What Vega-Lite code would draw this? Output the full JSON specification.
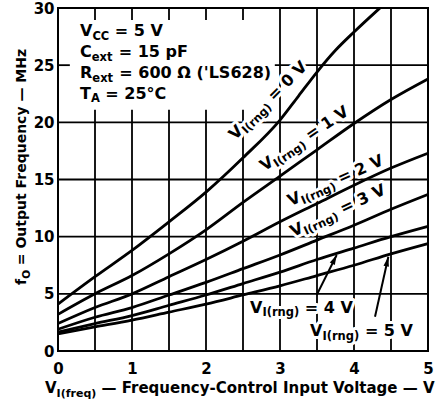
{
"$schema":"https://vega.github.io/schema/vega-lite/v6.json",
"autosize":"none",
"width":370,"height":343,
"padding":{"left":58,"top":8,"right":18,"bottom":54},
"background":"white",
"config":{"view":{"stroke":"black","strokeWidth":2},
"scale":{"continuousPadding":0},
"axis":{"grid":false,"ticks":false,"domain":false,"labelFont":"DejaVu Sans","labelFontWeight":"bold","labelFontSize":15,"labelColor":"black","title":null,"labelFlush":false,"labelOverlap":false}},
"datasets":{
"gx":[{"v":0.5,"a":0,"b":21.1},{"v":1,"a":0,"b":21.1},{"v":1.5,"a":0,"b":21.1},{"v":2,"a":0,"b":21.1},{"v":2.5,"a":0,"b":21.1},
{"v":0.5,"a":28.95,"b":30},{"v":1,"a":28.95,"b":30},{"v":1.5,"a":28.95,"b":30},{"v":2,"a":28.95,"b":30},{"v":2.5,"a":28.95,"b":30},
{"v":3,"a":0,"b":30},{"v":3.5,"a":0,"b":30},{"v":4,"a":0,"b":30},{"v":4.5,"a":0,"b":30}],
"gy":[{"v":5,"a":0,"b":5},{"v":10,"a":0,"b":5},{"v":15,"a":0,"b":5},{"v":20,"a":0,"b":5},{"v":25,"a":0,"b":0.16},{"v":25,"a":2.93,"b":5}],
"curves":[
{"c":"0","x":0,"y":4.1},{"c":"0","x":0.5,"y":6.5},{"c":"0","x":1,"y":8.8},{"c":"0","x":1.5,"y":11.3},{"c":"0","x":2,"y":13.9},{"c":"0","x":2.5,"y":16.9},{"c":"0","x":3,"y":20.2},{"c":"0","x":3.25,"y":22.3},{"c":"0","x":3.5,"y":24.4},{"c":"0","x":3.75,"y":26.3},{"c":"0","x":4,"y":27.9},{"c":"0","x":4.35,"y":30},
{"c":"1","x":0,"y":3.2},{"c":"1","x":0.5,"y":5.0},{"c":"1","x":1,"y":6.6},{"c":"1","x":1.5,"y":8.5},{"c":"1","x":2,"y":10.6},{"c":"1","x":2.5,"y":13.0},{"c":"1","x":3,"y":15.3},{"c":"1","x":3.5,"y":17.6},{"c":"1","x":4,"y":19.9},{"c":"1","x":4.5,"y":22.0},{"c":"1","x":5,"y":23.8},
{"c":"2","x":0,"y":2.4},{"c":"2","x":0.5,"y":3.8},{"c":"2","x":1,"y":5.0},{"c":"2","x":1.5,"y":6.5},{"c":"2","x":2,"y":8.0},{"c":"2","x":2.5,"y":9.6},{"c":"2","x":3,"y":11.3},{"c":"2","x":3.5,"y":12.9},{"c":"2","x":4,"y":14.5},{"c":"2","x":4.5,"y":16.0},{"c":"2","x":5,"y":17.3},
{"c":"3","x":0,"y":1.9},{"c":"3","x":0.5,"y":2.95},{"c":"3","x":1,"y":3.8},{"c":"3","x":1.5,"y":4.9},{"c":"3","x":2,"y":6.0},{"c":"3","x":2.5,"y":7.2},{"c":"3","x":3,"y":8.4},{"c":"3","x":3.5,"y":9.7},{"c":"3","x":4,"y":11.0},{"c":"3","x":4.5,"y":12.4},{"c":"3","x":5,"y":13.7},
{"c":"4","x":0,"y":1.65},{"c":"4","x":0.5,"y":2.4},{"c":"4","x":1,"y":3.1},{"c":"4","x":1.5,"y":4.0},{"c":"4","x":2,"y":4.9},{"c":"4","x":2.5,"y":5.9},{"c":"4","x":3,"y":6.9},{"c":"4","x":3.5,"y":8.0},{"c":"4","x":4,"y":9.0},{"c":"4","x":4.5,"y":10.0},{"c":"4","x":5,"y":10.9},
{"c":"5","x":0,"y":1.5},{"c":"5","x":0.5,"y":2.1},{"c":"5","x":1,"y":2.7},{"c":"5","x":1.5,"y":3.4},{"c":"5","x":2,"y":4.1},{"c":"5","x":2.5,"y":4.9},{"c":"5","x":3,"y":5.7},{"c":"5","x":3.5,"y":6.6},{"c":"5","x":4,"y":7.5},{"c":"5","x":4.5,"y":8.5},{"c":"5","x":5,"y":9.4}
],
"arrows":[{"c":"4","x":3.496,"y":4.9,"x2":3.766,"y2":8.4},{"c":"5","x":4.284,"y":3.0,"x2":4.464,"y2":8.25}],
"txt":[
{"g":"h","k":"m","t":"V","x":0.297,"y":27.55},{"g":"h","k":"s","t":"CC","x":0.465,"y":27.2},{"g":"h","k":"m","t":"= 5 V","x":0.768,"y":27.55},
{"g":"h","k":"m","t":"C","x":0.297,"y":25.71},{"g":"h","k":"s","t":"ext","x":0.455,"y":25.37},{"g":"h","k":"m","t":"= 15 pF","x":0.821,"y":25.71},
{"g":"h","k":"m","t":"R","x":0.297,"y":23.88},{"g":"h","k":"s","t":"ext","x":0.464,"y":23.53},{"g":"h","k":"m","t":"= 600 Ω ('LS628)","x":0.829,"y":23.88},
{"g":"h","k":"m","t":"T","x":0.297,"y":22.08},{"g":"h","k":"s","t":"A","x":0.445,"y":21.74},{"g":"h","k":"m","t":"= 25°C","x":0.64,"y":22.08},
{"g":"c","k":"m","t":"V","x":2.595,"y":3.32},{"g":"c","k":"s","t":"I(rng)","x":2.762,"y":3.02},{"g":"c","k":"m","t":"= 4 V","x":3.336,"y":3.32},
{"g":"c","k":"m","t":"V","x":3.405,"y":1.27},{"g":"c","k":"s","t":"I(rng)","x":3.573,"y":0.96},{"g":"c","k":"m","t":"= 5 V","x":4.147,"y":1.27},
{"g":"r0","k":"m","t":"V","x":2.395,"y":18.41},{"g":"r0","k":"s","t":"I(rng)","x":2.546,"y":18.96},{"g":"r0","k":"m","t":"= 0 V","x":2.92,"y":21.81},
{"g":"r1","k":"m","t":"V","x":2.791,"y":15.69},{"g":"r1","k":"s","t":"I(rng)","x":2.955,"y":16.04},{"g":"r1","k":"m","t":"= 1 V","x":3.405,"y":18.38},
{"g":"r2","k":"m","t":"V","x":3.141,"y":12.66},{"g":"r2","k":"s","t":"I(rng)","x":3.314,"y":12.82},{"g":"r2","k":"m","t":"= 2 V","x":3.818,"y":14.62},
{"g":"r3","k":"m","t":"V","x":3.18,"y":9.96},{"g":"r3","k":"s","t":"I(rng)","x":3.351,"y":10.15},{"g":"r3","k":"m","t":"= 3 V","x":3.853,"y":11.99},
{"g":"xt","k":"m","t":"V","x":-0.176,"y":-3.674},{"g":"xt","k":"s","t":"I(freq)","x":-0.019,"y":-4.023},{"g":"xt","k":"m","t":"— Frequency-Control Input Voltage — V","x":0.588,"y":-3.674},
{"g":"yt","k":"m","t":"f","x":-0.432,"y":5.77},{"g":"yt","k":"s","t":"O","x":-0.385,"y":6.31},{"g":"yt","k":"m","t":"= Output Frequency — MHz","x":-0.432,"y":7.51}
]},
"layer":[
{"data":{"name":"gx"},"mark":{"type":"bar","color":"black","size":1.8,"orient":"vertical"},
 "encoding":{"x":{"field":"v","type":"quantitative","scale":{"domain":[0,5],"nice":false,"zero":false,"padding":0},"axis":{"values":[0,1,2,3,4,5],"format":"d","labelPadding":10}},"y":{"field":"a","type":"quantitative","scale":{"domain":[0,30],"nice":false,"zero":false,"padding":0},"axis":{"values":[0,5,10,15,20,25,30],"labelPadding":4}},"y2":{"field":"b"}}},
{"data":{"name":"gy"},"mark":{"type":"bar","color":"black","size":1.8,"orient":"horizontal"},
 "encoding":{"y":{"field":"v","type":"quantitative"},"x":{"field":"a","type":"quantitative"},"x2":{"field":"b"}}},
{"data":{"name":"txt"},"transform":[{"filter":"datum.g=='c'&&datum.k=='m'"}],"mark":{"type":"text","font":"DejaVu Sans","fontWeight":"bold","fontSize":16,"angle":0,"align":"left","baseline":"alphabetic","fill":"white","stroke":"white","strokeWidth":6,"strokeJoin":"round"},"encoding":{"x":{"field":"x","type":"quantitative"},"y":{"field":"y","type":"quantitative"},"text":{"field":"t"}}},
{"data":{"name":"txt"},"transform":[{"filter":"datum.g=='c'&&datum.k=='s'"}],"mark":{"type":"text","font":"DejaVu Sans","fontWeight":"bold","fontSize":11.5,"angle":0,"align":"left","baseline":"alphabetic","fill":"white","stroke":"white","strokeWidth":6,"strokeJoin":"round"},"encoding":{"x":{"field":"x","type":"quantitative"},"y":{"field":"y","type":"quantitative"},"text":{"field":"t"}}},
{"data":{"name":"txt"},"transform":[{"filter":"datum.g=='r0'&&datum.k=='m'"}],"mark":{"type":"text","font":"DejaVu Sans","fontWeight":"bold","fontSize":16,"angle":315,"align":"left","baseline":"alphabetic","fill":"white","stroke":"white","strokeWidth":6,"strokeJoin":"round"},"encoding":{"x":{"field":"x","type":"quantitative"},"y":{"field":"y","type":"quantitative"},"text":{"field":"t"}}},
{"data":{"name":"txt"},"transform":[{"filter":"datum.g=='r0'&&datum.k=='s'"}],"mark":{"type":"text","font":"DejaVu Sans","fontWeight":"bold","fontSize":11.5,"angle":315,"align":"left","baseline":"alphabetic","fill":"white","stroke":"white","strokeWidth":6,"strokeJoin":"round"},"encoding":{"x":{"field":"x","type":"quantitative"},"y":{"field":"y","type":"quantitative"},"text":{"field":"t"}}},
{"data":{"name":"txt"},"transform":[{"filter":"datum.g=='r1'&&datum.k=='m'"}],"mark":{"type":"text","font":"DejaVu Sans","fontWeight":"bold","fontSize":16,"angle":326,"align":"left","baseline":"alphabetic","fill":"white","stroke":"white","strokeWidth":6,"strokeJoin":"round"},"encoding":{"x":{"field":"x","type":"quantitative"},"y":{"field":"y","type":"quantitative"},"text":{"field":"t"}}},
{"data":{"name":"txt"},"transform":[{"filter":"datum.g=='r1'&&datum.k=='s'"}],"mark":{"type":"text","font":"DejaVu Sans","fontWeight":"bold","fontSize":11.5,"angle":326,"align":"left","baseline":"alphabetic","fill":"white","stroke":"white","strokeWidth":6,"strokeJoin":"round"},"encoding":{"x":{"field":"x","type":"quantitative"},"y":{"field":"y","type":"quantitative"},"text":{"field":"t"}}},
{"data":{"name":"txt"},"transform":[{"filter":"datum.g=='r2'&&datum.k=='m'"}],"mark":{"type":"text","font":"DejaVu Sans","fontWeight":"bold","fontSize":16,"angle":336,"align":"left","baseline":"alphabetic","fill":"white","stroke":"white","strokeWidth":6,"strokeJoin":"round"},"encoding":{"x":{"field":"x","type":"quantitative"},"y":{"field":"y","type":"quantitative"},"text":{"field":"t"}}},
{"data":{"name":"txt"},"transform":[{"filter":"datum.g=='r2'&&datum.k=='s'"}],"mark":{"type":"text","font":"DejaVu Sans","fontWeight":"bold","fontSize":11.5,"angle":336,"align":"left","baseline":"alphabetic","fill":"white","stroke":"white","strokeWidth":6,"strokeJoin":"round"},"encoding":{"x":{"field":"x","type":"quantitative"},"y":{"field":"y","type":"quantitative"},"text":{"field":"t"}}},
{"data":{"name":"txt"},"transform":[{"filter":"datum.g=='r3'&&datum.k=='m'"}],"mark":{"type":"text","font":"DejaVu Sans","fontWeight":"bold","fontSize":16,"angle":335,"align":"left","baseline":"alphabetic","fill":"white","stroke":"white","strokeWidth":6,"strokeJoin":"round"},"encoding":{"x":{"field":"x","type":"quantitative"},"y":{"field":"y","type":"quantitative"},"text":{"field":"t"}}},
{"data":{"name":"txt"},"transform":[{"filter":"datum.g=='r3'&&datum.k=='s'"}],"mark":{"type":"text","font":"DejaVu Sans","fontWeight":"bold","fontSize":11.5,"angle":335,"align":"left","baseline":"alphabetic","fill":"white","stroke":"white","strokeWidth":6,"strokeJoin":"round"},"encoding":{"x":{"field":"x","type":"quantitative"},"y":{"field":"y","type":"quantitative"},"text":{"field":"t"}}},
{"data":{"name":"curves"},"mark":{"type":"line","stroke":"black","strokeWidth":2.8,"interpolate":"monotone"},"encoding":{"x":{"field":"x","type":"quantitative"},"y":{"field":"y","type":"quantitative"},"detail":{"field":"c"}}},
{"data":{"name":"arrows"},"mark":{"type":"rule","color":"black","strokeWidth":2},"encoding":{"x":{"field":"x","type":"quantitative"},"y":{"field":"y","type":"quantitative"},"x2":{"field":"x2"},"y2":{"field":"y2"}}},
{"data":{"name":"arrows"},"transform":[{"filter":"datum.c=='4'"}],"mark":{"type":"point","shape":"M0,0L-0.4,1.4L0.4,1.4Z","filled":true,"color":"black","opacity":1,"size":196,"angle":26.6},"encoding":{"x":{"field":"x2","type":"quantitative"},"y":{"field":"y2","type":"quantitative"}}},
{"data":{"name":"arrows"},"transform":[{"filter":"datum.c=='5'"}],"mark":{"type":"point","shape":"M0,0L-0.4,1.4L0.4,1.4Z","filled":true,"color":"black","opacity":1,"size":196,"angle":12.5},"encoding":{"x":{"field":"x2","type":"quantitative"},"y":{"field":"y2","type":"quantitative"}}},
{"data":{"name":"txt"},"transform":[{"filter":"(datum.g=='h'||datum.g=='c')&&datum.k=='m'"}],"mark":{"type":"text","font":"DejaVu Sans","fontWeight":"bold","fontSize":16,"angle":0,"align":"left","baseline":"alphabetic","fill":"black"},"encoding":{"x":{"field":"x","type":"quantitative"},"y":{"field":"y","type":"quantitative"},"text":{"field":"t"}}},
{"data":{"name":"txt"},"transform":[{"filter":"(datum.g=='h'||datum.g=='c')&&datum.k=='s'"}],"mark":{"type":"text","font":"DejaVu Sans","fontWeight":"bold","fontSize":11.5,"angle":0,"align":"left","baseline":"alphabetic","fill":"black"},"encoding":{"x":{"field":"x","type":"quantitative"},"y":{"field":"y","type":"quantitative"},"text":{"field":"t"}}},
{"data":{"name":"txt"},"transform":[{"filter":"datum.g=='r0'&&datum.k=='m'"}],"mark":{"type":"text","font":"DejaVu Sans","fontWeight":"bold","fontSize":16,"angle":315,"align":"left","baseline":"alphabetic","fill":"black"},"encoding":{"x":{"field":"x","type":"quantitative"},"y":{"field":"y","type":"quantitative"},"text":{"field":"t"}}},
{"data":{"name":"txt"},"transform":[{"filter":"datum.g=='r0'&&datum.k=='s'"}],"mark":{"type":"text","font":"DejaVu Sans","fontWeight":"bold","fontSize":11.5,"angle":315,"align":"left","baseline":"alphabetic","fill":"black"},"encoding":{"x":{"field":"x","type":"quantitative"},"y":{"field":"y","type":"quantitative"},"text":{"field":"t"}}},
{"data":{"name":"txt"},"transform":[{"filter":"datum.g=='r1'&&datum.k=='m'"}],"mark":{"type":"text","font":"DejaVu Sans","fontWeight":"bold","fontSize":16,"angle":326,"align":"left","baseline":"alphabetic","fill":"black"},"encoding":{"x":{"field":"x","type":"quantitative"},"y":{"field":"y","type":"quantitative"},"text":{"field":"t"}}},
{"data":{"name":"txt"},"transform":[{"filter":"datum.g=='r1'&&datum.k=='s'"}],"mark":{"type":"text","font":"DejaVu Sans","fontWeight":"bold","fontSize":11.5,"angle":326,"align":"left","baseline":"alphabetic","fill":"black"},"encoding":{"x":{"field":"x","type":"quantitative"},"y":{"field":"y","type":"quantitative"},"text":{"field":"t"}}},
{"data":{"name":"txt"},"transform":[{"filter":"datum.g=='r2'&&datum.k=='m'"}],"mark":{"type":"text","font":"DejaVu Sans","fontWeight":"bold","fontSize":16,"angle":336,"align":"left","baseline":"alphabetic","fill":"black"},"encoding":{"x":{"field":"x","type":"quantitative"},"y":{"field":"y","type":"quantitative"},"text":{"field":"t"}}},
{"data":{"name":"txt"},"transform":[{"filter":"datum.g=='r2'&&datum.k=='s'"}],"mark":{"type":"text","font":"DejaVu Sans","fontWeight":"bold","fontSize":11.5,"angle":336,"align":"left","baseline":"alphabetic","fill":"black"},"encoding":{"x":{"field":"x","type":"quantitative"},"y":{"field":"y","type":"quantitative"},"text":{"field":"t"}}},
{"data":{"name":"txt"},"transform":[{"filter":"datum.g=='r3'&&datum.k=='m'"}],"mark":{"type":"text","font":"DejaVu Sans","fontWeight":"bold","fontSize":16,"angle":335,"align":"left","baseline":"alphabetic","fill":"black"},"encoding":{"x":{"field":"x","type":"quantitative"},"y":{"field":"y","type":"quantitative"},"text":{"field":"t"}}},
{"data":{"name":"txt"},"transform":[{"filter":"datum.g=='r3'&&datum.k=='s'"}],"mark":{"type":"text","font":"DejaVu Sans","fontWeight":"bold","fontSize":11.5,"angle":335,"align":"left","baseline":"alphabetic","fill":"black"},"encoding":{"x":{"field":"x","type":"quantitative"},"y":{"field":"y","type":"quantitative"},"text":{"field":"t"}}},
{"data":{"name":"txt"},"transform":[{"filter":"datum.g=='xt'&&datum.k=='m'"}],"mark":{"type":"text","font":"DejaVu Sans","fontWeight":"bold","fontSize":15,"angle":0,"align":"left","baseline":"alphabetic","fill":"black"},"encoding":{"x":{"field":"x","type":"quantitative"},"y":{"field":"y","type":"quantitative"},"text":{"field":"t"}}},
{"data":{"name":"txt"},"transform":[{"filter":"datum.g=='xt'&&datum.k=='s'"}],"mark":{"type":"text","font":"DejaVu Sans","fontWeight":"bold","fontSize":11,"angle":0,"align":"left","baseline":"alphabetic","fill":"black"},"encoding":{"x":{"field":"x","type":"quantitative"},"y":{"field":"y","type":"quantitative"},"text":{"field":"t"}}},
{"data":{"name":"txt"},"transform":[{"filter":"datum.g=='yt'&&datum.k=='m'"}],"mark":{"type":"text","font":"DejaVu Sans","fontWeight":"bold","fontSize":14,"angle":270,"align":"left","baseline":"alphabetic","fill":"black"},"encoding":{"x":{"field":"x","type":"quantitative"},"y":{"field":"y","type":"quantitative"},"text":{"field":"t"}}},
{"data":{"name":"txt"},"transform":[{"filter":"datum.g=='yt'&&datum.k=='s'"}],"mark":{"type":"text","font":"DejaVu Sans","fontWeight":"bold","fontSize":10.5,"angle":270,"align":"left","baseline":"alphabetic","fill":"black"},"encoding":{"x":{"field":"x","type":"quantitative"},"y":{"field":"y","type":"quantitative"},"text":{"field":"t"}}}
]
}
